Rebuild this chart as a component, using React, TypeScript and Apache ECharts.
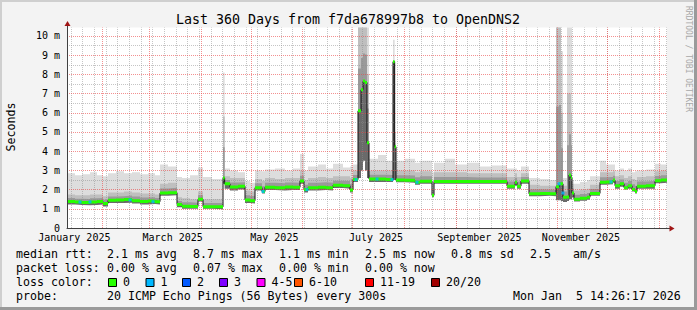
import React, { useEffect, useRef } from 'react';
import * as echarts from 'echarts';

const FONT = '"DejaVu Sans Mono", monospace';
const START = Date.UTC(2025, 0, 10, 14, 26, 17);
const DAY = 86400000;
const SPAN_DAYS = 360;
const Y_MAX = 10.44;

const title = 'Last 360 Days from f7da678997b8 to OpenDNS2';
const yAxisTitle = 'Seconds';
const watermark = 'RRDTOOL / TOBI OETIKER';

// breakpoints, days since start; each value holds until the next breakpoint
const days = [0, 4.8, 9, 13.8, 18, 21.6, 24.6, 29.4, 34.2, 39, 43.8, 48.6, 52.8, 55.8, 60.6, 66, 69, 73.8, 78.6, 81.6, 87, 93.6, 94.6, 97.8, 102.6, 106.8, 109.8, 112.8, 117, 118.8, 124.8, 130.8, 135.6, 139.8, 142.2, 144.6, 150.6, 155.4, 159.6, 165.6, 169.8, 171.6, 174.6, 176.4, 177.6, 178.8, 180, 181.2, 186.6, 191.4, 195.6, 196.6, 197.4, 202.8, 208.8, 211.8, 219, 220.2, 226.8, 232.8, 240, 247.8, 255, 264, 268.8, 270, 272.4, 277.2, 283.8, 289.8, 293.4, 295.2, 296.4, 297.6, 300, 301.2, 302.4, 303, 304.2, 307.8, 312, 313.8, 319.8, 323.4, 327.6, 328.8, 331.8, 334.2, 336.6, 339, 340.8, 342, 347.4, 352.8, 356.4];
// median rtt (ms)
const median = [1.38, 1.35, 1.33, 1.36, 1.38, 1.28, 1.44, 1.46, 1.48, 1.42, 1.38, 1.4, 1.37, 1.82, 1.84, 1.22, 1.13, 1.12, 1.5, 1.11, 1.1, 2.6, 2.3, 2.13, 2.17, 1.46, 1.42, 2.1, 1.9, 2.12, 2.1, 2.13, 2.12, 2.45, 2.0, 2.1, 2.12, 2.1, 2.22, 2.2, 1.98, 2.52, 6.1, 7.2, 7.66, 7.58, 4.44, 2.55, 2.55, 2.52, 8.66, 4.23, 2.5, 2.48, 2.38, 2.44, 1.7, 2.42, 2.42, 2.42, 2.42, 2.42, 2.42, 2.18, 2.38, 2.18, 2.45, 1.78, 1.8, 1.78, 2.15, 2.3, 2.3, 1.6, 1.62, 2.76, 2.62, 1.82, 1.5, 1.55, 1.6, 1.8, 2.38, 2.4, 2.5, 2.2, 2.3, 2.1, 2.2, 2.0, 1.9, 2.18, 2.2, 2.46, 2.5];
// lower edge of the smoke
const smokeLo = [1.22, 1.2, 1.18, 1.2, 1.22, 1.12, 1.3, 1.3, 1.32, 1.28, 1.22, 1.25, 1.22, 1.68, 1.7, 1.08, 1.0, 1.0, 1.38, 1.0, 0.98, 2.3, 2.05, 1.95, 2.0, 1.3, 1.28, 1.95, 1.8, 1.98, 1.95, 1.98, 1.98, 2.3, 1.85, 1.95, 1.98, 1.95, 2.08, 2.05, 1.85, 2.4, 2.6, 3.0, 3.5, 3.0, 2.6, 2.4, 2.4, 2.4, 2.5, 2.5, 2.38, 2.35, 2.25, 2.3, 1.6, 2.3, 2.3, 2.3, 2.3, 2.3, 2.3, 2.05, 2.25, 2.05, 2.3, 1.65, 1.68, 1.65, 1.45, 1.45, 1.4, 1.35, 1.4, 1.5, 1.5, 1.6, 1.38, 1.42, 1.47, 1.68, 2.25, 2.28, 2.35, 2.05, 2.15, 2.0, 2.05, 1.9, 1.8, 2.05, 2.05, 2.33, 2.35];
// top of the dense (dark) part of the smoke
const smokeDark = [1.75, 1.7, 1.7, 1.75, 1.75, 1.65, 1.85, 1.85, 1.9, 1.85, 1.8, 1.8, 1.75, 2.3, 2.35, 1.6, 1.55, 1.5, 1.9, 1.5, 1.5, 5.8, 2.7, 2.6, 2.6, 1.95, 1.9, 2.55, 2.45, 2.6, 2.55, 2.6, 2.6, 3.0, 2.5, 2.6, 2.65, 2.6, 2.7, 2.7, 2.6, 3.0, 10.5, 10.5, 10.5, 10.5, 8.0, 3.0, 3.0, 3.0, 8.7, 4.4, 3.0, 3.0, 2.9, 2.95, 2.3, 2.9, 2.9, 2.9, 2.85, 2.85, 2.85, 2.65, 2.85, 2.65, 2.85, 2.25, 2.2, 2.2, 10.5, 10.5, 6.0, 2.2, 7.0, 7.0, 6.0, 2.3, 1.95, 2.0, 2.05, 2.25, 2.9, 2.9, 2.95, 2.7, 2.75, 2.6, 2.7, 2.55, 2.5, 2.65, 2.7, 2.95, 3.0];
// top of the smoke (slowest pings)
const smokeHi = [2.85, 2.75, 2.8, 2.9, 2.75, 2.7, 2.85, 2.95, 2.85, 2.9, 2.8, 2.85, 2.75, 3.3, 3.2, 2.65, 2.6, 2.75, 3.15, 2.65, 2.55, 8.1, 3.1, 3.0, 2.9, 2.45, 2.35, 3.0, 2.95, 3.05, 3.1, 3.0, 3.1, 3.85, 3.0, 3.2, 3.3, 3.1, 3.35, 3.15, 3.2, 3.3, 10.5, 10.5, 10.5, 10.5, 10.5, 3.6, 3.8, 3.5, 9.8, 5.0, 3.5, 3.6, 3.4, 3.5, 2.9, 3.4, 3.6, 3.3, 3.4, 3.2, 3.25, 3.1, 3.1, 3.0, 3.2, 2.6, 2.55, 2.5, 10.5, 10.5, 9.2, 2.6, 10.5, 10.5, 10.5, 2.5, 2.3, 2.4, 2.5, 2.7, 3.5, 3.3, 3.3, 3.0, 3.1, 3.0, 3.1, 2.9, 2.95, 3.0, 3.05, 3.35, 3.3];

// samples with 1/20 packet loss
const lossDays = [7.8, 13.8, 37.8, 51.6, 117.6, 144, 173.4, 186, 195, 210, 295.2, 297.6, 326.4];
const lossMedian = [1.35, 1.36, 1.46, 1.37, 1.9, 2.0, 2.52, 2.55, 2.52, 2.38, 2.3, 1.82, 2.4];

const yTickValues = [0, 1, 2, 3, 4, 5, 6, 7, 8, 9, 10];
const monthLabels = ['January 2025', 'March 2025', 'May 2025', 'July 2025', 'September 2025', 'November 2025'];
const monthLabelMonths = [0, 2, 4, 6, 8, 10];

const legendRows = [
  { y: 254, items: [['median rtt:', 16], ['2.1 ms avg', 107], ['8.7 ms max', 193], ['1.1 ms min', 279], ['2.5 ms now', 365], ['0.8 ms sd', 451], ['2.5', 530], ['am/s', 573]] },
  { y: 268, items: [['packet loss:', 16], ['0.00 % avg', 107], ['0.07 % max', 193], ['0.00 % min', 279], ['0.00 % now', 365]] },
  { y: 282, items: [['loss color:', 16]] },
  { y: 296, items: [['probe:', 16], ['20 ICMP Echo Pings (56 Bytes) every 300s', 107], ['Mon Jan', 513], ['5 14:26:17 2026', 576]] },
];
const lossLabels = ['0', '1', '2', '3', '4-5', '6-10', '11-19', '20/20'];
const lossColors = ['#26ff00', '#00b8ff', '#0059ff', '#7e00ff', '#ff00ff', '#ff5500', '#ff0000', '#a10000'];
const lossBoxX = [108, 145.5, 182, 219, 256.5, 294, 365, 431];

function stepPts(vals: number[]) {
  const pts: any[] = days.map((d, i) => [d, vals[i]]);
  pts.push([SPAN_DAYS, vals[vals.length - 1]]);
  return pts;
}

export default function App() {
  const ref = useRef<HTMLDivElement>(null);
  useEffect(() => {
    document.body.style.margin = '0';
    const chart = echarts.init(ref.current!, null, { renderer: 'svg' });

    const mid = median.map((m, i) => (m + smokeDark[i]) / 2);
    const medSegs: any[] = [];
    days.forEach((d, i) => {
      const next = i + 1 < days.length ? days[i + 1] : SPAN_DAYS;
      medSegs.push([d, median[i]], [next, median[i]], [next, '-']);
    });

    const weekLines: number[] = [];
    for (let t = Date.UTC(2025, 0, 13); t < START + SPAN_DAYS * DAY; t += 7 * DAY) weekLines.push((t - START) / DAY);
    const monthLines: number[] = [];
    for (let m = 1; m <= 12; m++) monthLines.push((Date.UTC(2025, m, 1) - START) / DAY);
    const labelPos = monthLabelMonths.map((m) => (Date.UTC(2025, m, 15) - START) / DAY);

    const red = 'rgba(235,70,70,0.6)';
    const gray = 'rgba(140,140,140,0.5)';
    const dash = [1, 1];
    const gridData: any[] = [];
    weekLines.forEach((d) => gridData.push({ xAxis: d, lineStyle: { color: gray, type: dash, width: 1 } }));
    for (let v = 0.5; v < 10.3; v += 1) gridData.push({ yAxis: v, lineStyle: { color: gray, type: dash, width: 1 } });
    monthLines.forEach((d) => gridData.push({ xAxis: d, lineStyle: { color: red, type: dash, width: 1 } }));
    yTickValues.slice(1).forEach((v) => gridData.push({ yAxis: v, lineStyle: { color: red, type: dash, width: 1 } }));

    const labelData = labelPos.map((d, i) => ({
      xAxis: d,
      name: monthLabels[i],
      lineStyle: { color: 'rgba(0,0,0,0)', width: 0 },
      label: { show: true, position: 'start', formatter: '{b}', distance: 5, color: '#000', fontFamily: FONT, fontSize: 10, lineHeight: 9 },
    }));

    const area = (vals: number[], color: string, z: number) => ({
      type: 'line',
      step: 'end',
      data: stepPts(vals),
      symbol: 'none',
      silent: true,
      lineStyle: { opacity: 0, width: 0 },
      areaStyle: { color, opacity: 1, origin: 'start' },
      z,
    });

    const graphic: any[] = [
      // frame
      { type: 'line', shape: { x1: 0, y1: 1, x2: 697, y2: 1 }, style: { stroke: '#cfcfcf', lineWidth: 2 } },
      { type: 'line', shape: { x1: 1, y1: 0, x2: 1, y2: 310 }, style: { stroke: '#cfcfcf', lineWidth: 2 } },
      { type: 'line', shape: { x1: 0, y1: 308.5, x2: 697, y2: 308.5 }, style: { stroke: '#9a9a9a', lineWidth: 3 } },
      { type: 'line', shape: { x1: 695.5, y1: 0, x2: 695.5, y2: 310 }, style: { stroke: '#9a9a9a', lineWidth: 3 } },
      // axis extensions and arrows
      { type: 'line', shape: { x1: 67.5, y1: 28, x2: 67.5, y2: 25 }, style: { stroke: '#404040', lineWidth: 1 } },
      { type: 'polygon', shape: { points: [[67.5, 21], [64.5, 26], [70.5, 26]] }, style: { fill: '#a01515' } },
      { type: 'line', shape: { x1: 667, y1: 228.5, x2: 670, y2: 228.5 }, style: { stroke: '#404040', lineWidth: 1 } },
      { type: 'polygon', shape: { points: [[674.5, 228.5], [669.5, 225.5], [669.5, 231.5]] }, style: { fill: '#a01515' } },
      // titles
      { type: 'text', x: 348, y: 19, style: { text: title, font: `13.3px ${FONT}`, fill: '#000', textAlign: 'center', textVerticalAlign: 'middle' } },
      { type: 'text', x: 11, y: 127, rotation: Math.PI / 2, style: { text: yAxisTitle, font: `11.6px ${FONT}`, fill: '#000', textAlign: 'center', textVerticalAlign: 'middle' } },
      { type: 'text', x: 688, y: 59, rotation: -Math.PI / 2, style: { text: watermark, font: `8px ${FONT}`, fill: '#a8a8a8', textAlign: 'center', textVerticalAlign: 'middle' } },
    ];
    legendRows.forEach((row) =>
      row.items.forEach(([t, x]) =>
        graphic.push({ type: 'text', x, y: row.y, style: { text: t, font: `11.6px ${FONT}`, fill: '#000', textAlign: 'left', textVerticalAlign: 'middle' } })
      )
    );
    lossLabels.forEach((t, i) => {
      graphic.push({ type: 'rect', shape: { x: lossBoxX[i] + 0.5, y: 278.5, width: 8, height: 8 }, style: { fill: lossColors[i], stroke: '#000', lineWidth: 1 } });
      graphic.push({ type: 'text', x: lossBoxX[i] + 15, y: 282, style: { text: t, font: `11.6px ${FONT}`, fill: '#000', textAlign: 'left', textVerticalAlign: 'middle' } });
    });

    chart.setOption({
      animation: false,
      backgroundColor: '#f3f3f3',
      grid: { left: 67, right: 30, top: 27.5, bottom: 82, show: true, backgroundColor: '#ffffff', borderWidth: 0 },
      xAxis: {
        type: 'value', min: 0, max: SPAN_DAYS, z: 10,
        axisLine: { show: true, lineStyle: { color: '#404040', width: 1 } },
        axisTick: { show: false }, axisLabel: { show: false }, splitLine: { show: false },
      },
      yAxis: {
        type: 'value', min: 0, max: Y_MAX, interval: 0.5, z: 10,
        axisLine: { show: true, lineStyle: { color: '#404040', width: 1 } },
        axisTick: { show: false }, splitLine: { show: false },
        axisLabel: {
          color: '#000', fontFamily: FONT, fontSize: 10, margin: 7, lineHeight: 9,
          formatter: (v: number) => (yTickValues.includes(v) ? (v === 0 ? '0' : `${v} m`) : ''),
        },
      },
      series: [
        area(smokeHi, '#dddddd', 1),
        area(smokeDark, '#bfbfbf', 1),
        area(mid, '#9a9a9a', 1),
        area(median, '#6a6a6a', 1),
        area(smokeLo, '#ffffff', 1),
        {
          type: 'line', data: [], silent: true, z: 3,
          markLine: { silent: true, symbol: ['none', 'none'], animation: false, label: { show: false }, data: gridData },
        },
        {
          type: 'line', data: [], silent: true, z: 3,
          markLine: { silent: true, symbol: ['none', 'none'], animation: false, data: labelData },
        },
        {
          type: 'line', step: 'end', data: stepPts(median), symbol: 'none', silent: true, z: 4,
          lineStyle: { color: '#111', width: 1 },
        },
        {
          type: 'line', data: medSegs, symbol: 'none', silent: true, z: 5, connectNulls: false,
          lineStyle: { color: '#26ff00', width: 3 },
        },
        {
          type: 'scatter', data: lossDays.map((d, i) => [d, lossMedian[i]]), symbol: 'rect', symbolSize: [3, 3], silent: true, z: 6,
          itemStyle: { color: '#00b8ff' },
        },
      ],
      graphic,
    });
    return () => chart.dispose();
  }, []);
  return <div ref={ref} style={{ width: 697, height: 310 }} />;
}
